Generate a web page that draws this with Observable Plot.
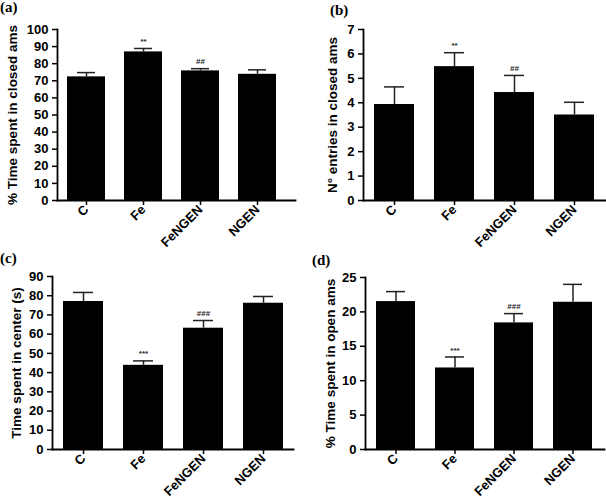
<!DOCTYPE html>
<html>
<head>
<meta charset="utf-8">
<script src="https://cdn.jsdelivr.net/npm/d3@7"></script>
<script src="https://cdn.jsdelivr.net/npm/@observablehq/plot@0.6"></script>
<style>
  html, body { margin: 0; padding: 0; background: #fff; }
  #wrap { position: relative; width: 606px; height: 503px; overflow: hidden; background: #fff; }
  .panel { position: absolute; }
  .plabel { position: absolute; font-family: "Liberation Serif", "Times New Roman", serif; font-weight: bold; font-size: 15px; line-height: 1; }
  g[aria-label="y-axis label"] text { font-size: 13.5px !important; }
  g[aria-label="x-axis tick"] path, g[aria-label="y-axis tick"] path { stroke-width: 1.5px; }
</style>
</head>
<body>
<div id="wrap"></div>
<script>
const groups = ["C", "Fe", "FeNGEN", "NGEN"];

// (a) % Time spent in closed arms
const closedTime = [72.3, 86.9, 75.8, 73.8];
const closedTimeErr = [2.5, 2.0, 1.3, 2.6];
const closedTimeSig = ["", "**", "##", ""];
const closedTimeTicks = [0, 10, 20, 30, 40, 50, 60, 70, 80, 90, 100];

// (b) N° entries in closed arms
const closedEntries = [3.93, 5.48, 4.42, 3.5];
const closedEntriesErr = [0.72, 0.57, 0.7, 0.52];
const closedEntriesSig = ["", "**", "##", ""];
const closedEntriesTicks = [0, 1, 2, 3, 4, 5, 6, 7];

// (c) Time spent in center (s)
const centerTime = [77, 43.8, 63.1, 76.1];
const centerTimeErr = [4.7, 2.3, 4.0, 3.5];
const centerTimeSig = ["", "***", "###", ""];
const centerTimeTicks = [0, 10, 20, 30, 40, 50, 60, 70, 80, 90];

// (d) % Time spent in open arms
const openTime = [21.5, 11.85, 18.4, 21.4];
const openTimeErr = [1.45, 1.6, 1.35, 2.6];
const openTimeSig = ["", "***", "###", ""];
const openTimeTicks = [0, 5, 10, 15, 20, 25];

function panel(o) {
  const data = groups.map((g, i) => ({g, v: o.values[i], hi: o.values[i] + o.errs[i], s: o.sig[i]}));
  const domain = [o.ticks[0], o.ticks[o.ticks.length - 1]];
  return Plot.plot({
    width: o.width, height: o.height,
    marginLeft: o.ml, marginRight: o.mr, marginTop: o.mt, marginBottom: o.mb,
    style: {fontFamily: "'Liberation Sans', Arial, sans-serif", fontWeight: "bold", fontSize: "13px", color: "#000", background: "transparent"},
    x: {domain: groups, paddingInner: 0.335, paddingOuter: 0.17, insetRight: o.ir || 0,
        label: null, tickRotate: -45, tickSize: 5, tickPadding: 2},
    y: {domain, label: null},
    marks: [
      Plot.barY(data, {x: "g", y: "v", fill: "#000"}),
      Plot.ruleX(data, {x: "g", y1: "v", y2: "hi", stroke: "#222", strokeWidth: 1.5}),
      Plot.tickY(data, {x: "g", y: "hi", stroke: "#222", strokeWidth: 1.5, insetLeft: 10, insetRight: 10}),
      Plot.text(data, {x: "g", y: "hi", text: "s", dy: -7, fontSize: 8, fontWeight: "bold", fill: "#222"}),
      Plot.axisY({ticks: o.ticks, tickFormat: d3.format("d"), tickSize: 5, tickPadding: 4, fontSize: 13,
        label: o.label, labelAnchor: "center", labelArrow: "none", labelOffset: o.lo}),
      Plot.frame({anchor: "left", strokeWidth: 1.8}),
      Plot.frame({anchor: "bottom", strokeWidth: 1.8})
    ]
  });
}

const wrap = document.getElementById("wrap");
const specs = [
  {left: 0, top: 0, width: 300, height: 250, ml: 57, mr: 5, ir: 9, mt: 29, mb: 50, lo: 50,
   values: closedTime, errs: closedTimeErr, sig: closedTimeSig, ticks: closedTimeTicks,
   label: "% Time spent in closed ams", tag: "(a)", tx: 0, ty: 0},
  {left: 300, top: 0, width: 306, height: 250, ml: 63, mr: 1, ir: 1, mt: 29, mb: 50, lo: 36,
   values: closedEntries, errs: closedEntriesErr, sig: closedEntriesSig, ticks: closedEntriesTicks,
   label: "N° entries in closed ams", tag: "(b)", tx: 330, ty: 3},
  {left: 0, top: 250, width: 300, height: 253, ml: 52, mr: 7, ir: 0, mt: 26, mb: 54, lo: 41,
   values: centerTime, errs: centerTimeErr, sig: centerTimeSig, ticks: centerTimeTicks,
   label: "Time spent in center (s)", tag: "(c)", tx: 0, ty: 251},
  {left: 300, top: 250, width: 306, height: 253, ml: 65, mr: 2, ir: 0, mt: 27, mb: 54, lo: 40,
   values: openTime, errs: openTimeErr, sig: openTimeSig, ticks: openTimeTicks,
   label: "% Time spent in open ams", tag: "(d)", tx: 312, ty: 253}
];

for (const s of specs) {
  const div = document.createElement("div");
  div.className = "panel";
  div.style.left = s.left + "px";
  div.style.top = s.top + "px";
  div.appendChild(panel(s));
  wrap.appendChild(div);
}
for (const s of specs) {
  const t = document.createElement("div");
  t.className = "plabel";
  t.style.left = s.tx + "px";
  t.style.top = s.ty + "px";
  t.textContent = s.tag;
  wrap.appendChild(t);
}
</script>
</body>
</html>
